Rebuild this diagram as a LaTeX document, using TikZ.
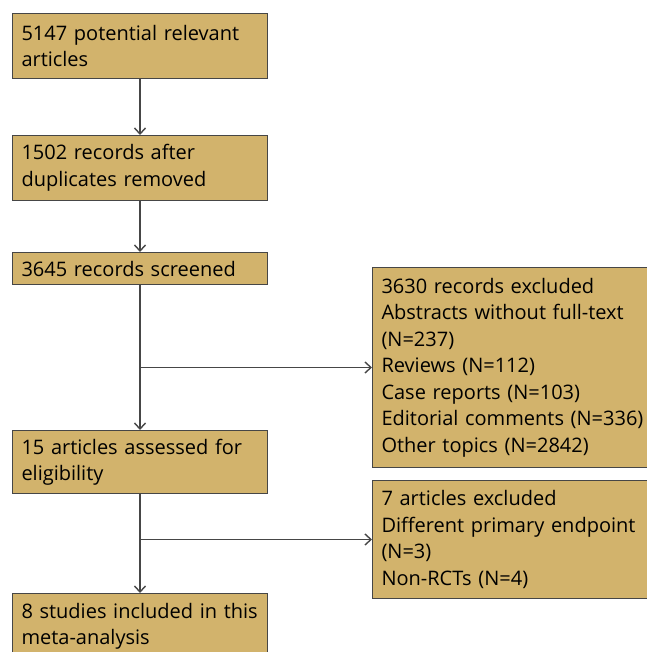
\documentclass[tikz,border=0pt]{standalone}
\usepackage{fontspec}
\setmainfont{Open Sans}
\usetikzlibrary{arrows.meta}

\definecolor{boxtan}{RGB}{210,179,108}
\definecolor{edgegray}{RGB}{70,70,70}

\tikzset{
  stage/.style={draw=edgegray, line width=1pt, fill=boxtan, anchor=north west,
    align=left, inner xsep=9pt, inner ysep=2pt,
    font={\fontsize{20}{26.5}\selectfont}},
  flow/.style={->, >={Straight Barb[length=6pt,width=11pt]}, draw=edgegray, line width=1.4pt},
}

\begin{document}
\begin{tikzpicture}[x=1pt,y=-1pt]
  \useasboundingbox (0,0) rectangle (646,652);
  % left column
  \node[stage, text width=237pt, minimum height=65pt] (found) at (12,13) {5147 potential relevant\\articles};
  \node[stage, text width=237pt, minimum height=65pt] (dedup) at (12,135) {1502 records after\\duplicates removed};
  \node[stage, text width=237pt, minimum height=32pt] (screen) at (12,252) {3645 records screened};
  \node[stage, text width=237pt, minimum height=63pt] (elig) at (12,430) {15 articles assessed for\\eligibility};
  \node[stage, text width=237pt, minimum height=66pt] (incl) at (12,593) {8 studies included in this\\meta-analysis};
  % right column
  \node[stage, text width=270pt, minimum height=200pt] (excl1) at (372,267) {3630 records excluded\\Abstracts without full-text\\(N=237)\\Reviews (N=112)\\Case reports (N=103)\\Editorial comments (N=336)\\Other topics (N=2842)};
  \node[stage, text width=270pt, minimum height=118pt] (excl2) at (372,480) {7 articles excluded\\Different primary endpoint\\(N=3)\\Non-RCTs (N=4)};
  % arrows
  \draw[flow] (found) -- (dedup);
  \draw[flow] (dedup) -- (screen);
  \draw[flow] (screen) -- (elig);
  \draw[flow] (elig) -- (incl);
  \draw[flow] (screen.south |- excl1.west) -- (excl1.west);
  \draw[flow] (elig.south |- excl2.west) -- (excl2.west);
\end{tikzpicture}
\end{document}
